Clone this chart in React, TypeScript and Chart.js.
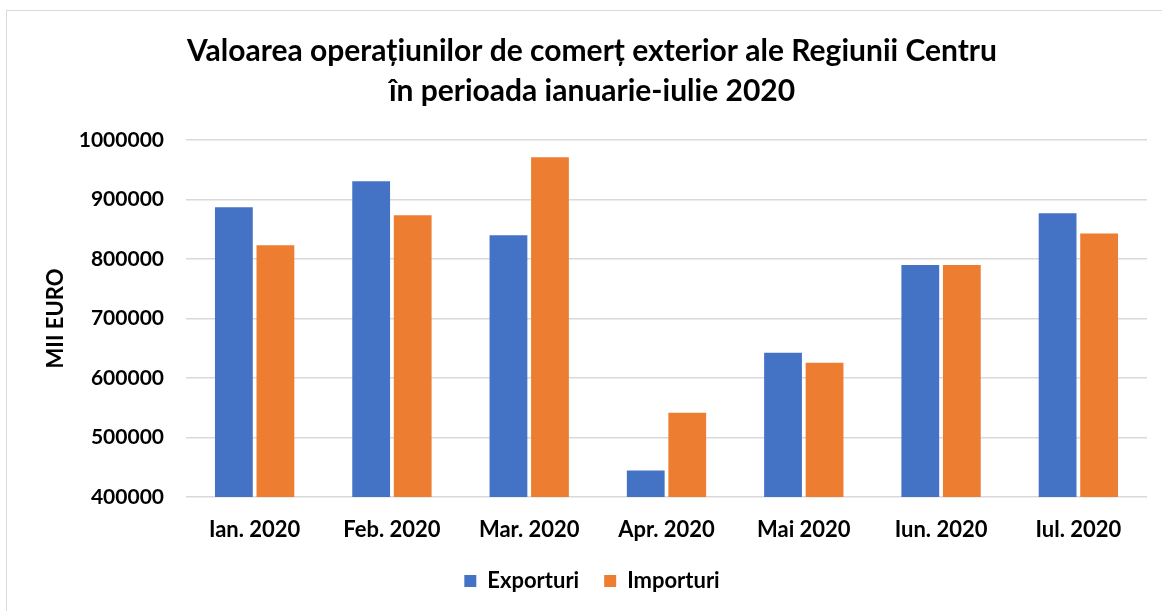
import React, { useEffect, useRef } from "react";
import { Chart, registerables } from "chart.js";

Chart.register(...registerables);

const categories = ["Ian. 2020", "Feb. 2020", "Mar. 2020", "Apr. 2020", "Mai 2020", "Iun. 2020", "Iul. 2020"];
const exporturi = [887000, 930500, 840000, 444500, 642500, 790000, 877000];
const importuri = [823000, 873500, 971000, 541500, 625500, 790000, 843000];
const titleLines = ["Valoarea operațiunilor de comerț exterior ale Regiunii Centru", "în perioada ianuarie-iulie 2020"];
const yTitle = "MII EURO";

const FONT = "Lato, 'Open Sans', sans-serif";

// Excel centres title and legend on the whole chart frame, not on the plot
const centerOnFrame = {
  id: "centerOnFrame",
  afterLayout(chart: any) {
    const target = 592;
    for (const box of [chart.titleBlock, chart.legend]) {
      if (!box) continue;
      const dx = target - (box.left + box.right) / 2;
      box.left += dx;
      box.right += dx;
    }
  },
};

export default function App() {
  const ref = useRef<HTMLCanvasElement | null>(null);

  useEffect(() => {
    document.body.style.margin = "0";
    if (!ref.current) return;
    const chart = new Chart(ref.current, {
      type: "bar",
      data: {
        labels: categories,
        datasets: [
          { label: "Exporturi", data: exporturi, backgroundColor: "#4472C4", borderWidth: 0 },
          { label: "Importuri", data: importuri, backgroundColor: "#ED7D31", borderWidth: 0 },
        ],
      },
      plugins: [centerOnFrame],
      options: {
        animation: false,
        responsive: false,
        devicePixelRatio: 1,
        layout: { padding: { left: 39, right: 15, top: 0, bottom: 9 } },
        datasets: { bar: { categoryPercentage: 0.605, barPercentage: 0.91 } },
        plugins: {
          title: {
            display: true,
            text: titleLines,
            color: "#000",
            font: { family: FONT, size: 30, weight: "bold", lineHeight: 1.35 },
            padding: { top: 31, bottom: 28 },
          },
          legend: {
            position: "bottom",
            labels: {
              color: "#000",
              font: { family: FONT, size: 22, weight: "bold" },
              boxWidth: 12,
              boxHeight: 12,
              padding: 25,
            },
          },
          tooltip: { enabled: false },
        },
        scales: {
          x: {
            grid: { display: false, drawTicks: false },
            border: { display: false },
            ticks: { color: "#000", font: { family: FONT, size: 22, weight: "bold" }, padding: 20, maxRotation: 0, autoSkip: false },
            afterFit: (scale: any) => {
              scale.height = 48;
            },
          },
          y: {
            min: 400000,
            max: 1000000,
            grid: { color: "#d9d9d9", lineWidth: 1.5, drawTicks: false },
            border: { display: false },
            ticks: {
              stepSize: 100000,
              color: "#000",
              font: { family: FONT, size: 21, weight: "bold" },
              padding: 22,
              callback: (v: any) => String(v),
            },
            title: {
              display: true,
              text: yTitle,
              color: "#000",
              font: { family: FONT, size: 22, weight: "bold" },
              padding: { top: 4, bottom: 4 },
            },
            afterFit: (scale: any) => {
              scale.width = 147;
            },
          },
        },
      },
    });
    return () => chart.destroy();
  }, []);

  return (
    <div style={{ position: "relative", width: 1162, height: 611, overflow: "hidden", background: "#fff" }}>
      <div
        style={{
          position: "absolute",
          left: 6,
          top: 10,
          width: 1170,
          height: 620,
          border: "1px solid #d9d9d9",
          boxSizing: "border-box",
        }}
      />
      <canvas ref={ref} width={1162} height={611} style={{ position: "absolute", left: 0, top: 0 }} />
    </div>
  );
}
